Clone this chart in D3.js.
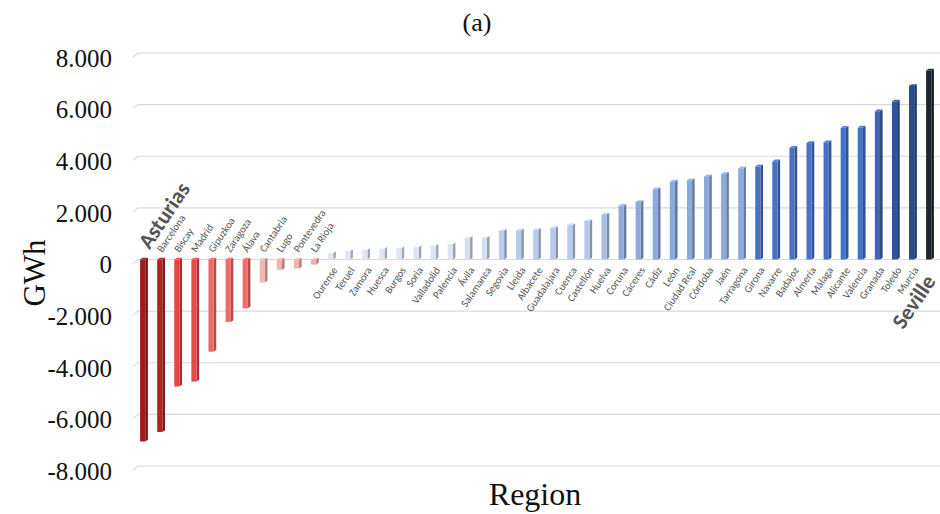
<!DOCTYPE html>
<html><head><meta charset="utf-8">
<script src="https://cdn.jsdelivr.net/npm/d3@7"></script>
</head>
<body style="margin:0">
<svg id="chart" width="940" height="514"></svg>
<script>
const categories = ["Asturias","Barcelona","Biscay","Madrid","Gipuzkoa","Zaragoza","Álava","Cantabria","Lugo","Pontevedra","La Rioja",
"Ourense","Teruel","Zamora","Huesca","Burgos","Soria","Valladolid","Palencia","Ávila","Salamanca","Segovia","Lleida","Albacete",
"Guadalajara","Cuenca","Castellón","Huelva","Coruna","Cáceres","Cádiz","León","Ciudad Real","Córdoba","Jaén","Tarragona",
"Girona","Navarre","Badajoz","Almería","Málaga","Alicante","Valencia","Granada","Toledo","Murcia","Seville"];
const values = [-7050,-6680,-4920,-4730,-3570,-2420,-1890,-890,-400,-350,-200,
250,330,380,420,440,480,540,590,840,850,1110,1130,1150,
1220,1330,1490,1740,2080,2230,2720,3020,3070,3220,3320,3530,
3600,3800,4330,4510,4540,5100,5110,5740,6120,6720,7320];
const yTicks = [-8000,-6000,-4000,-2000,0,2000,4000,6000,8000];
const highlighted = ["Asturias","Seville"];
const title = "(a)", yTitle = "GWh", xTitle = "Region";

const SERIF = '"Liberation Serif", serif';
const SANS = '"Carlito", sans-serif';

const svg = d3.select("#chart");
const W = 940, H = 514;
const x = d3.scalePoint().domain(categories).range([144, 930]);
const y = d3.scaleLinear().domain([-8000, 8000]).range([466, 53]);
const loc = d3.formatLocale({decimal: ",", thousands: ".", grouping: [3], currency: ["", "€"], minus: "-"});
const fmt = loc.format(",");

const color = d3.scaleLinear()
  .domain([-7100,-6600,-4900,-4700,-3500,-1900,-1000,-850,-200,0,200,600,860,1000,1500,1600,1800,2000,3550,3580,5200,5700,6100,6700,7100])
  .range(["#9e1b1b","#b32424","#e94444","#eb4a4a","#ee6868","#ef6c6c","#f2a6a6","#f5bbbb","#f2adad","#f2adad",
          "#e0e8f4","#dbe4f3","#d4dff1","#bccceb","#b6c8e8","#b2c5e8","#a3bae2","#8ea9db","#8ea9db","#4673c4",
          "#4472c4","#3e68b6","#2f5597","#2b4e8a","#1d2733"])
  .clamp(true);

// gridlines
svg.append("g").selectAll("path").data(yTicks).join("path")
  .attr("d", d => `M133,${y(d)+4}L138,${y(d)}L${W},${y(d)}`)
  .attr("fill","none").attr("stroke","#d9d9d9").attr("stroke-width",1.2);

// y tick labels
svg.append("g").selectAll("text").data(yTicks).join("text")
  .attr("x", 112).attr("y", d => y(d) + 5).attr("dy","0.35em")
  .attr("text-anchor","end")
  .style("font-family", SERIF).style("font-size","25px").attr("fill","#111")
  .text(d => fmt(d));

// bars (pseudo-3D)
const fw = 5.2, sw = 2.6, dep = 1.8;
const bars = svg.append("g").selectAll("g").data(categories).join("g");
bars.each(function(c, i){
  const v = values[i];
  const cx = x(c);
  const x0 = cx - (fw + sw) / 2;
  const yt = Math.min(y(v), y(0)), yb = Math.max(y(v), y(0));
  const col = d3.color(color(v));
  const g = d3.select(this);
  g.append("path")
    .attr("d", `M${x0+fw},${yt}L${x0+fw+sw},${yt-dep}L${x0+fw+sw},${yb-dep}L${x0+fw},${yb}Z`)
    .attr("fill", col.darker(0.9));
  g.append("path")
    .attr("d", `M${x0},${yt}L${x0+sw},${yt-dep}L${x0+fw+sw},${yt-dep}L${x0+fw},${yt}Z`)
    .attr("fill", col.brighter(0.3));
  g.append("rect").attr("x", x0).attr("y", yt).attr("width", fw).attr("height", yb - yt)
    .attr("fill", col);
});

// category labels
svg.append("g").selectAll("text").data(categories).join("text")
  .style("font-family", SANS)
  .attr("fill","#555")
  .each(function(c, i){
    const v = values[i];
    const big = highlighted.includes(c);
    const t = d3.select(this);
    const cx = x(c);
    t.style("font-size", (big ? 22 : 10.5) + "px")
     .style("font-weight", big ? 700 : 400)
     .attr("dy", "0.35em")
     .text(c);
    if (v < 0) {
      t.attr("text-anchor","start")
       .attr("transform", `translate(${cx - (big ? 1 : 2)},${big ? 246 : 251}) rotate(-56)`);
    } else {
      t.attr("text-anchor","end")
       .attr("transform", `translate(${cx + (big ? 0 : 3)},${big ? 277 : 268}) rotate(-56)`);
    }
  });

// titles
svg.append("text").attr("x", 477).attr("y", 31).attr("text-anchor","middle")
  .style("font-family", SERIF).style("font-size","26px").attr("fill","#111").text(title);
svg.append("text").attr("transform","translate(45,273) rotate(-90)").attr("text-anchor","middle")
  .style("font-family", SERIF).style("font-size","31px").attr("fill","#111").text(yTitle);
svg.append("text").attr("x", 535).attr("y", 505).attr("text-anchor","middle")
  .style("font-family", SERIF).style("font-size","32px").attr("fill","#111").text(xTitle);
</script>
</body></html>
